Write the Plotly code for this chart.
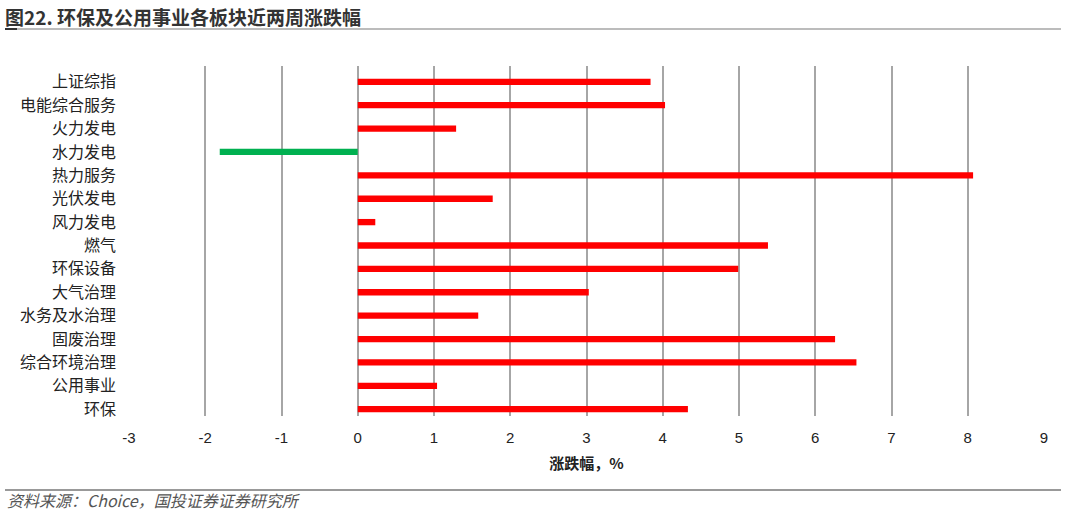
import plotly.graph_objects as go

categories = ["上证综指", "电能综合服务", "火力发电", "水力发电", "热力服务", "光伏发电",
              "风力发电", "燃气", "环保设备", "大气治理", "水务及水治理", "固废治理",
              "综合环境治理", "公用事业", "环保"]
values = [3.84, 4.03, 1.29, -1.81, 8.07, 1.77, 0.23, 5.38, 4.99, 3.03, 1.58, 6.26, 6.54, 1.04, 4.33]
x_ticks = list(range(-3, 10))

colors = ["#00B050" if v < 0 else "#FF0000" for v in values]

fig = go.Figure()
fig.add_trace(go.Bar(
    y=categories, x=values, orientation="h",
    marker=dict(color=colors, line=dict(width=0)),
    width=0.27,
))

cjk = "Noto Sans CJK SC"
PW, PH = 915, 350  # plot area size in px
def px(xw):
    return (xw - 129) / PW
def py(yw):
    return (416 - yw) / PH

fig.update_layout(
    width=1067, height=512,
    paper_bgcolor="white", plot_bgcolor="white",
    margin=dict(l=129, r=23, t=66, b=96, autoexpand=False),
    showlegend=False,
    xaxis=dict(
        range=[-3, 9], tickvals=x_ticks, ticktext=[str(t) for t in x_ticks],
        showgrid=True, gridcolor="#A6A6A6", gridwidth=1.5,
        zeroline=True, zerolinecolor="#A6A6A6", zerolinewidth=1.5,
        showline=False, ticks="", ticklen=0,
        ticklabelstandoff=11,
        tickfont=dict(family="Liberation Sans, Arial", size=15, color="#222"),
        title=dict(text="<b>涨跌幅，%</b>", font=dict(family=cjk, size=15, color="#222"), standoff=13),
        fixedrange=True,
    ),
    yaxis=dict(
        categoryorder="array", categoryarray=categories,
        range=[14.29, -0.675],
        showgrid=False, zeroline=False, showline=False, ticks="",
        tickfont=dict(family=cjk, size=16, color="#222"),
        ticklabelstandoff=12,
        fixedrange=True,
    ),
    annotations=[
        dict(text="<b>图22. 环保及公用事业各板块近两周涨跌幅</b>", xref="paper", yref="paper",
             x=px(3), y=py(16), xanchor="left", yanchor="middle",
             showarrow=False, font=dict(family=cjk, size=19, color="#333")),
        dict(text="<i>资料来源：Choice，国投证券证券研究所</i>", xref="paper", yref="paper",
             x=px(5), y=py(500), xanchor="left", yanchor="middle",
             showarrow=False, font=dict(family=cjk, size=16, color="#555")),
    ],
    shapes=[
        dict(type="line", xref="paper", yref="paper",
             x0=px(5), x1=px(1061), y0=py(29), y1=py(29),
             line=dict(color="#A6A6A6", width=1.5)),
        dict(type="line", xref="paper", yref="paper",
             x0=px(5), x1=px(17), y0=py(29), y1=py(29),
             line=dict(color="#333", width=2)),
        dict(type="line", xref="paper", yref="paper",
             x0=px(5), x1=px(1061), y0=py(490), y1=py(490),
             line=dict(color="#777", width=1.5)),
    ],
)

fig.write_html("out.html", config={"displayModeBar": False},
               post_script="document.body.style.margin='0';")
